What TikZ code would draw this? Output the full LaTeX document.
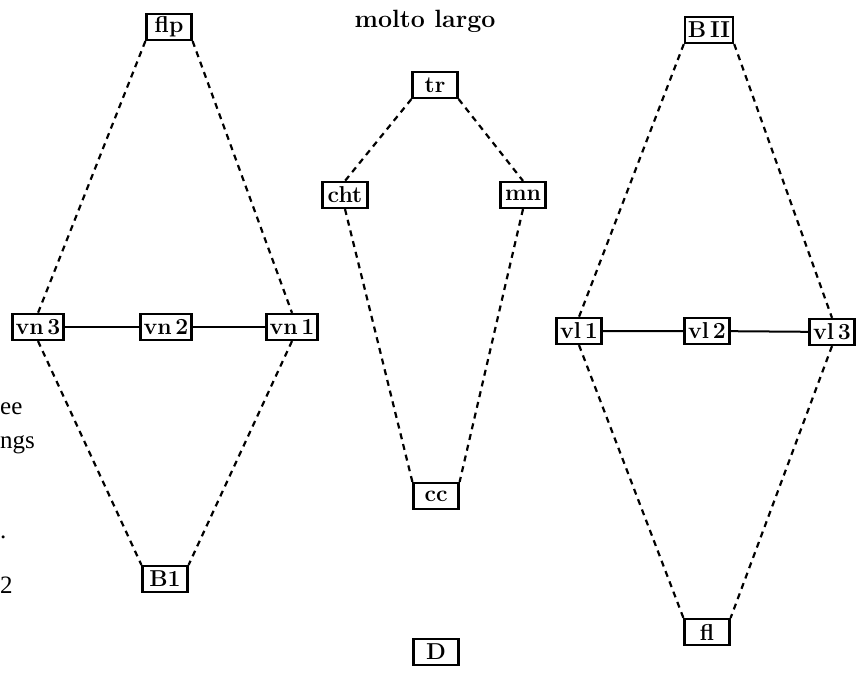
\documentclass[tikz,border=0pt]{standalone}
\usepackage{fontspec}
\newfontfamily\sidefont{Liberation Serif}
\begin{document}
\begin{tikzpicture}[x=1pt,y=-1pt,
  part/.style={draw,line width=2.2pt,font=\fontsize{23}{25}\selectfont\bfseries,
    minimum width=45pt,minimum height=26pt,inner xsep=3pt,inner ysep=1pt},
  link/.style={line width=2.2pt,dash pattern=on 6pt off 5pt},
  bar/.style={line width=2pt},
  side/.style={font=\sidefont\fontsize{25}{27}\selectfont,inner sep=0pt,anchor=base west}]
\useasboundingbox (0,0) rectangle (864,695);

\node[font=\fontsize{25}{27}\selectfont\bfseries] (title) at (425,21) {molto largo};

% left group
\node[part] (flp) at (169,27) {flp};
\node[part] (vn3) at (38,327) {vn\,3};
\node[part] (vn2) at (166,327) {vn\,2};
\node[part] (vn1) at (292,327) {vn\,1};
\node[part] (B1) at (165,579) {B1};

% centre group
\node[part] (tr) at (435,85) {tr};
\node[part] (cht) at (345,195) {cht};
\node[part] (mn) at (523,195) {mn};
\node[part] (cc) at (436,496) {cc};
\node[part] (D) at (436,652) {D};

% right group
\node[part] (BII) at (709,30) {B\,II};
\node[part] (vl1) at (579,331) {vl\,1};
\node[part] (vl2) at (707,331) {vl\,2};
\node[part] (vl3) at (832,332) {vl\,3};
\node[part] (fl) at (707,632) {fl};

% dashed links
\draw[link] (flp.south west) -- (vn3.north);
\draw[link] (flp.south east) -- (vn1.north);
\draw[link] (vn3.south) -- (B1.north west);
\draw[link] (vn1.south) -- (B1.north east);
\draw[link] (tr.south west) -- (cht.north);
\draw[link] (tr.south east) -- (mn.north);
\draw[link] (cht.south) -- (cc.north west);
\draw[link] (mn.south) -- (cc.north east);
\draw[link] (BII.south west) -- (vl1.north);
\draw[link] (BII.south east) -- (vl3.north);
\draw[link] (vl1.south) -- (fl.north west);
\draw[link] (vl3.south) -- (fl.north east);

% solid bars
\draw[bar] (vn3) -- (vn2) -- (vn1);
\draw[bar] (vl1) -- (vl2) -- (vl3);

% fragments of neighbouring text
\node[side] (s1) at (0,414) {ee};
\node[side] (s2) at (0,448) {ngs};
\node[side] (s3) at (0,538) {.};
\node[side] (s4) at (0,593) {2};
\end{tikzpicture}
\end{document}
